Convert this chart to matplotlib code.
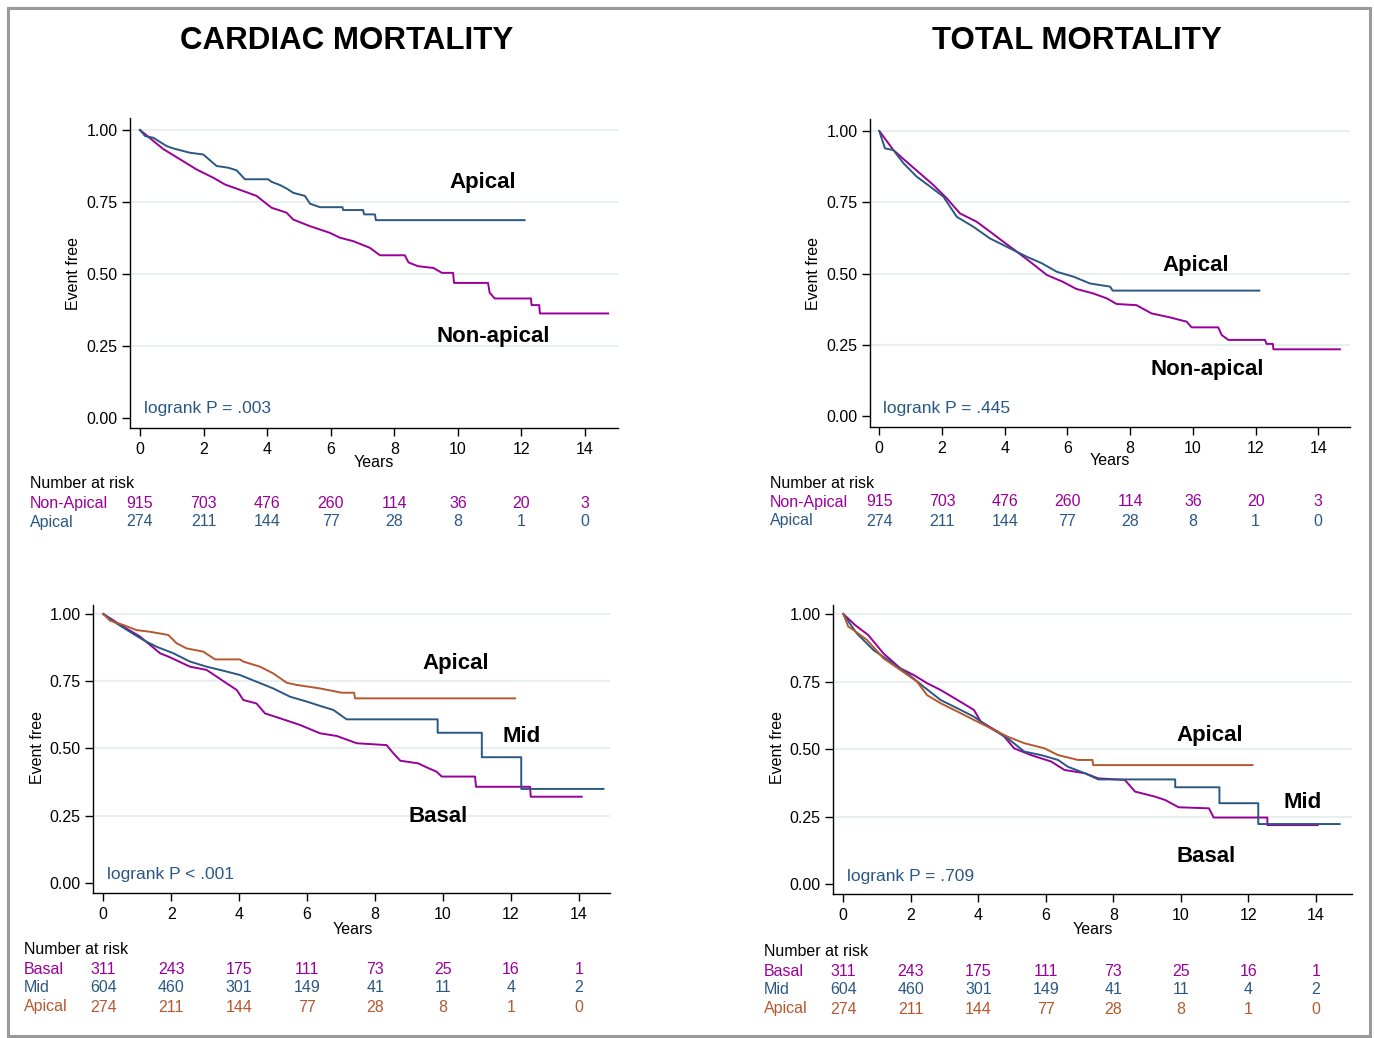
import matplotlib.pyplot as plt
from matplotlib.patches import Rectangle
from matplotlib.transforms import blended_transform_factory

plt.rcParams['font.family'] = ['Liberation Sans', 'DejaVu Sans']

PURPLE = '#990099'
BLUE = '#2a5883'
ORANGE = '#b5582e'
GRID = '#e6eef0'

W, H = 1374, 1038

# x ticks / risk table time points
years = [0, 2, 4, 6, 8, 10, 12, 14]
yticks = [0.0, 0.25, 0.5, 0.75, 1.0]

# number at risk
risk_nonapical = [915, 703, 476, 260, 114, 36, 20, 3]
risk_apical = [274, 211, 144, 77, 28, 8, 1, 0]
risk_basal = [311, 243, 175, 111, 73, 25, 16, 1]
risk_mid = [604, 460, 301, 149, 41, 11, 4, 2]

# cardiac mortality, apical vs non-apical
cm_nonapical_t = [0, 0.73, 1.78, 2.31, 2.67, 3.25, 3.67, 4.14, 4.61, 4.82, 5.35, 5.97, 6.29, 6.71,
                  7.23, 7.55, 8.33, 8.45, 8.75, 9.23, 9.5, 9.85, 9.88, 10.95, 11.0, 11.16, 12.3,
                  12.32, 12.56, 12.58, 14.73]
cm_nonapical_s = [1.0, .934, .863, .834, .811, .788, .771, .730, .713, .689, .666, .643, .626, .614,
                  .591, .565, .565, .540, .527, .521, .504, .504, .469, .469, .435, .415, .415,
                  .392, .392, .363, .363]
cm_apical_t = [0, 0.16, 0.42, 0.84, 1.05, 1.57, 1.99, 2.41, 2.78, 3.04, 3.3, 4.03, 4.14, 4.4, 4.61,
               4.82, 5.19, 5.35, 5.66, 6.37, 6.39, 7.02, 7.05, 7.39, 7.42, 12.1]
cm_apical_s = [1.0, .979, .973, .944, .936, .921, .915, .875, .869, .860, .829, .829, .820, .809, .797,
               .782, .771, .744, .732, .732, .722, .722, .707, .707, .687, .687]

# total mortality, apical vs non-apical
tm_nonapical_t = [0, 0.45, 0.87, 1.3, 1.72, 2.15, 2.57, 3.1, 3.53, 3.95, 4.38, 4.8, 5.34, 5.85, 6.28,
                  6.82, 7.25, 7.57, 8.2, 8.68, 9.27, 9.8, 9.96, 10.81, 10.92, 11.13, 12.3, 12.35,
                  12.55, 12.57, 14.69]
tm_nonapical_s = [1.0, .933, .892, .851, .811, .764, .711, .682, .647, .612, .577, .542, .495, .471, .446,
                  .430, .413, .393, .389, .360, .346, .331, .311, .311, .284, .267, .267, .253,
                  .253, .234, .234]
tm_apical_t = [0, 0.18, 0.45, 0.77, 1.19, 1.62, 2.04, 2.47, 3.0, 3.53, 4.06, 4.7, 5.18, 5.66, 6.19,
               6.72, 7.36, 7.44, 12.12]
tm_apical_s = [1.0, .939, .933, .887, .840, .805, .770, .699, .664, .623, .594, .559, .536, .506, .489,
               .465, .454, .440, .440]

# cardiac mortality, basal / mid / apical
cm3_apical_t = [0, 0.2, 0.59, 0.98, 1.37, 1.91, 2.16, 2.45, 2.94, 3.29, 4.02, 4.12, 4.61, 5.0, 5.4,
                5.69, 6.38, 7.02, 7.38, 7.41, 12.12]
cm3_apical_s = [1.0, .975, .959, .940, .934, .922, .891, .872, .860, .831, .831, .823, .804, .779, .744,
                .736, .723, .707, .707, .686, .686]
cm3_mid_t = [0, 0.39, 0.78, 1.18, 1.57, 2.06, 2.55, 3.04, 3.53, 4.02, 4.51, 5.0, 5.5, 5.99, 6.38, 6.77,
             7.16, 9.84, 9.84, 11.14, 11.14, 12.3, 12.3, 14.72]
cm3_mid_s = [1.0, .965, .934, .903, .878, .854, .823, .804, .789, .773, .748, .723, .692, .674, .658, .643,
             .608, .608, .558, .558, .467, .467, .349, .349]
cm3_basal_t = [0, 0.59, 1.08, 1.67, 1.96, 2.55, 3.04, 3.63, 3.93, 4.12, 4.51, 4.76, 5.2, 5.79, 6.38,
               6.87, 7.46, 8.34, 8.54, 8.74, 9.27, 9.52, 9.81, 9.96, 10.94, 10.97, 12.56, 12.58, 14.08]
cm3_basal_s = [1.0, .953, .916, .854, .839, .804, .792, .742, .717, .680, .667, .630, .612, .587, .556,
               .546, .519, .512, .481, .454, .444, .429, .413, .395, .395, .357, .357, .320, .320]

# total mortality, basal / mid / apical
tm3_apical_t = [0, 0.15, 0.3, 0.7, 1.19, 1.69, 2.18, 2.48, 2.88, 3.38, 3.87, 4.37, 4.87, 5.36, 5.96,
                6.36, 6.95, 7.38, 7.4, 12.12]
tm3_apical_s = [1.0, .953, .941, .904, .836, .793, .750, .700, .670, .639, .608, .577, .546, .522, .503,
                .478, .460, .460, .441, .441]
tm3_mid_t = [0, 0.4, 0.89, 1.39, 1.89, 2.38, 2.88, 3.38, 3.87, 4.37, 4.87, 5.36, 5.86, 6.36, 6.65, 7.15,
             7.55, 9.83, 9.83, 11.14, 11.14, 12.29, 12.29, 14.7]
tm3_mid_s = [1.0, .928, .867, .824, .781, .731, .682, .651, .620, .577, .540, .491, .478, .460, .435, .411,
             .388, .388, .359, .359, .300, .300, .223, .223]
tm3_basal_t = [0, 0.35, 0.74, 1.19, 1.69, 2.09, 2.48, 2.88, 3.38, 3.87, 4.07, 4.57, 4.77, 5.06, 5.56,
               6.16, 6.55, 7.15, 7.55, 8.34, 8.64, 9.24, 9.53, 9.93, 10.83, 10.97, 12.56, 12.56, 14.05]
tm3_basal_s = [1.0, .959, .922, .854, .799, .774, .744, .719, .682, .645, .602, .565, .546, .503, .478,
               .454, .423, .411, .392, .386, .343, .324, .312, .285, .281, .247, .247, .219, .219]

fig = plt.figure(figsize=(W / 100, H / 100), dpi=100)


def ftext(x, y, s, **kw):
    fig.text(x / W, 1 - y / H, s, **kw)


def make_axes(box, x0, x14, y1, y0):
    l, r, t, b = box
    ax = fig.add_axes([l / W, 1 - b / H, (r - l) / W, (b - t) / H])
    ppy = (x14 - x0) / 14
    ax.set_xlim((l - x0) / ppy, (r - x0) / ppy)
    ppu = y0 - y1
    ax.set_ylim((y0 - b) / ppu, (y0 - t) / ppu)
    ax.set_xticks(years)
    ax.set_yticks(yticks)
    ax.set_yticklabels(['%.2f' % v for v in yticks])
    ax.tick_params(direction='out', length=6, width=1, labelsize=11.5, pad=3)
    ax.tick_params(axis='x', pad=4)
    for s in ['top', 'right']:
        ax.spines[s].set_visible(False)
    for s in ['left', 'bottom']:
        ax.spines[s].set_linewidth(1)
    for v in yticks[1:]:
        ax.axhline(v, color=GRID, lw=1.3, zorder=0)
    return ax


def risk_table(ax, x_lab, y_top, rows):
    tr = blended_transform_factory(ax.transData, fig.transFigure)
    ftext(x_lab, y_top, 'Number at risk', fontsize=11.5, va='center', ha='left')
    for i, (name, vals, col) in enumerate(rows):
        y = y_top + 19 * (i + 1)
        ftext(x_lab, y, name, fontsize=11.5, va='center', ha='left', color=col)
        for yr, v in zip(years, vals):
            ax.text(yr, 1 - y / H, str(v), transform=tr, fontsize=11.5, ha='center',
                    va='center', color=col, clip_on=False)


lw = 1.4
lab = dict(fontsize=16, fontweight='bold', ha='center', va='center')

# panel 1
ax1 = make_axes((130, 618, 118, 428), 140, 585, 130, 418)
ax1.plot(cm_nonapical_t, cm_nonapical_s, color=PURPLE, lw=lw)
ax1.plot(cm_apical_t, cm_apical_s, color=BLUE, lw=lw)
ftext(483, 183, 'Apical', **lab)
ftext(493, 336, 'Non-apical', **lab)
ftext(144, 408, 'logrank P = .003', fontsize=12.5, color=BLUE, va='center')
ftext(374, 462, 'Years', fontsize=11.5, ha='center', va='center')
ftext(73, 273, 'Event free', fontsize=11.5, ha='center', va='center', rotation=90)
risk_table(ax1, 30, 484, [('Non-Apical', risk_nonapical, PURPLE), ('Apical', risk_apical, BLUE)])

# panel 2
ax2 = make_axes((870, 1350, 119, 427), 879.3, 1318.3, 131, 416)
ax2.plot(tm_nonapical_t, tm_nonapical_s, color=PURPLE, lw=lw)
ax2.plot(tm_apical_t, tm_apical_s, color=BLUE, lw=lw)
ftext(1196, 265, 'Apical', **lab)
ftext(1207, 369, 'Non-apical', **lab)
ftext(883, 408, 'logrank P = .445', fontsize=12.5, color=BLUE, va='center')
ftext(1110, 461, 'Years', fontsize=11.5, ha='center', va='center')
ftext(813, 273, 'Event free', fontsize=11.5, ha='center', va='center', rotation=90)
risk_table(ax2, 770, 483, [('Non-Apical', risk_nonapical, PURPLE), ('Apical', risk_apical, BLUE)])

# panel 3
ax3 = make_axes((93, 610, 605, 893), 103.3, 579, 614, 882.7)
ax3.plot(cm3_basal_t, cm3_basal_s, color=PURPLE, lw=lw)
ax3.plot(cm3_mid_t, cm3_mid_s, color=BLUE, lw=lw)
ax3.plot(cm3_apical_t, cm3_apical_s, color=ORANGE, lw=lw)
ftext(456, 663, 'Apical', **lab)
ftext(522, 736, 'Mid', **lab)
ftext(438, 816, 'Basal', **lab)
ftext(107, 875, 'logrank P < .001', fontsize=12.5, color=BLUE, va='center')
ftext(353, 929, 'Years', fontsize=11.5, ha='center', va='center')
ftext(37, 748, 'Event free', fontsize=11.5, ha='center', va='center', rotation=90)
risk_table(ax3, 24, 950, [('Basal', risk_basal, PURPLE), ('Mid', risk_mid, BLUE),
                          ('Apical', risk_apical, ORANGE)])

# panel 4
ax4 = make_axes((833, 1352, 605, 894), 843.3, 1316, 614, 884.3)
ax4.plot(tm3_basal_t, tm3_basal_s, color=PURPLE, lw=lw)
ax4.plot(tm3_mid_t, tm3_mid_s, color=BLUE, lw=lw)
ax4.plot(tm3_apical_t, tm3_apical_s, color=ORANGE, lw=lw)
ftext(1210, 736, 'Apical', **lab)
ftext(1303, 803, 'Mid', **lab)
ftext(1206, 857, 'Basal', **lab)
ftext(847, 876, 'logrank P = .709', fontsize=12.5, color=BLUE, va='center')
ftext(1093, 930, 'Years', fontsize=11.5, ha='center', va='center')
ftext(777, 748, 'Event free', fontsize=11.5, ha='center', va='center', rotation=90)
risk_table(ax4, 764, 952, [('Basal', risk_basal, PURPLE), ('Mid', risk_mid, BLUE),
                           ('Apical', risk_apical, ORANGE)])

# titles
ftext(347, 41, 'CARDIAC MORTALITY', fontsize=22.5, fontweight='bold', ha='center', va='center')
ftext(1077, 41, 'TOTAL MORTALITY', fontsize=22.5, fontweight='bold', ha='center', va='center')

# outer frame
fig.patches.append(Rectangle((8 / W, 1 - 1036 / H), 1362 / W, 1028 / H, transform=fig.transFigure,
                             fill=False, edgecolor='#9a9a9a', lw=2.2))

fig.savefig('out.png', dpi=100)
